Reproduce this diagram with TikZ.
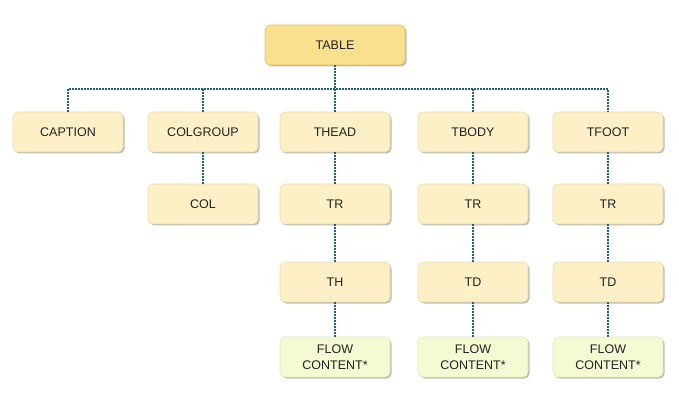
\documentclass[tikz,border=0pt]{standalone}
\usepackage{fontspec}
\setmainfont{Liberation Sans}
\usetikzlibrary{shadows}
\definecolor{rootfill}{HTML}{F9E08E}
\definecolor{rootline}{HTML}{E3C46A}
\definecolor{tagfill}{HTML}{FDF0C6}
\definecolor{tagline}{HTML}{EDDDAA}
\definecolor{flowfill}{HTML}{F6FAD3}
\definecolor{flowline}{HTML}{E2E8B8}
\definecolor{linkcol}{HTML}{1F5F80}
\definecolor{txtcol}{HTML}{222222}
\tikzset{
  tag/.style={rectangle,rounded corners=5pt,draw=tagline,fill=tagfill,line width=0.6pt,
    minimum width=110pt,minimum height=40pt,text=txtcol,align=center,
    font=\fontsize{12.5}{16}\selectfont,
    drop shadow={shadow xshift=1.5pt,shadow yshift=-1.5pt,opacity=0.45,fill=black!60}},
  root/.style={tag,draw=rootline,fill=rootfill,minimum width=140pt},
  flow/.style={tag,draw=flowline,fill=flowfill},
  link/.style={draw=linkcol,line width=1.6pt,dash pattern=on 1.6pt off 1.4pt}
}
\begin{document}
\begin{tikzpicture}[x=1pt,y=-1pt]
\useasboundingbox (0,0) rectangle (679,403);
% top level
\node[root] (table) at (335,45) {TABLE};
% children of table
\node[tag] (caption) at (68,132) {CAPTION};
\node[tag] (colgroup) at (203,132) {COLGROUP};
\node[tag] (thead) at (335,132) {THEAD};
\node[tag] (tbody) at (473,132) {TBODY};
\node[tag] (tfoot) at (608,132) {TFOOT};
% rows
\node[tag] (col) at (203,204) {COL};
\node[tag] (trh) at (335,204) {TR};
\node[tag] (trb) at (473,204) {TR};
\node[tag] (trf) at (608,204) {TR};
% cells
\node[tag] (th) at (335,282) {TH};
\node[tag] (tdb) at (473,282) {TD};
\node[tag] (tdf) at (608,282) {TD};
% content
\node[flow] (flowh) at (335,357) {FLOW\\CONTENT*};
\node[flow] (flowb) at (473,357) {FLOW\\CONTENT*};
\node[flow] (flowf) at (608,357) {FLOW\\CONTENT*};
% connectors
\coordinate (bus) at (335,89);
\draw[link] (table.south) -- (bus);
\draw[link] (caption.north) -- (caption.north |- bus) -- (tfoot.north |- bus) -- (tfoot.north);
\draw[link] (colgroup.north) -- (colgroup.north |- bus);
\draw[link] (thead.north) -- (thead.north |- bus);
\draw[link] (tbody.north) -- (tbody.north |- bus);
\draw[link] (colgroup) -- (col);
\draw[link] (thead) -- (trh);
\draw[link] (tbody) -- (trb);
\draw[link] (tfoot) -- (trf);
\draw[link] (trh) -- (th);
\draw[link] (trb) -- (tdb);
\draw[link] (trf) -- (tdf);
\draw[link] (th) -- (flowh);
\draw[link] (tdb) -- (flowb);
\draw[link] (tdf) -- (flowf);
\end{tikzpicture}
\end{document}
